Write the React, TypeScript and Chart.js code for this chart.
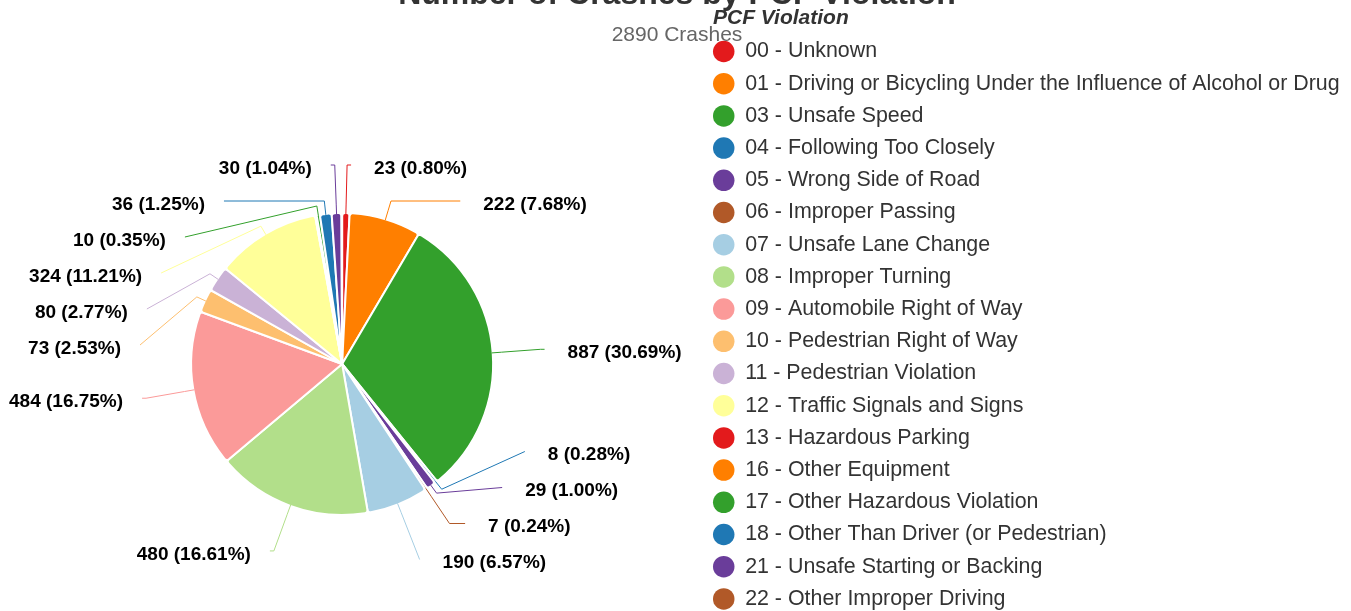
import React, { useEffect, useRef } from 'react';
import { Chart, registerables, DoughnutController } from 'chart.js';

Chart.register(...registerables);

const FONT = "'Liberation Sans', Arial, Helvetica, sans-serif";

// ---- data ----
const violationCodes = ['00', '01', '03', '04', '05', '06', '07', '08', '09', '10', '11', '12', '13', '16', '17', '18', '21', '22'];
const violationNames = [
  'Unknown',
  'Driving or Bicycling Under the Influence of Alcohol or Drug',
  'Unsafe Speed',
  'Following Too Closely',
  'Wrong Side of Road',
  'Improper Passing',
  'Unsafe Lane Change',
  'Improper Turning',
  'Automobile Right of Way',
  'Pedestrian Right of Way',
  'Pedestrian Violation',
  'Traffic Signals and Signs',
  'Hazardous Parking',
  'Other Equipment',
  'Other Hazardous Violation',
  'Other Than Driver (or Pedestrian)',
  'Unsafe Starting or Backing',
  'Other Improper Driving',
];
const crashCounts = [23, 222, 887, 8, 29, 7, 190, 480, 484, 73, 80, 324, 2, 3, 10, 36, 30, 2];
const palette = ['#e31a1c', '#ff7f00', '#33a02c', '#1f78b4', '#6a3d9a', '#b15928', '#a6cee3', '#b2df8a', '#fb9a99', '#fdbf6f', '#cab2d6', '#ffff99'];

const titleText = 'Number of Crashes by PCF Violation';
const subtitleText = '2890 Crashes';
const legendTitleText = 'PCF Violation';

const categories = violationCodes.map((c, i) => `${c} - ${violationNames[i]}`);
const sliceColors = crashCounts.map((_, i) => palette[i % palette.length]);

// ---- layout constants ----
const CANVAS_W = 1351;
const CANVAS_H = 712;
const CANVAS_TOP = -30;
const LEGEND_PAD = 10.8;
const LT_SIZE = 21;
const LT_PAD_TOP = 39;
const PIE_SHIFT = 22.4;
const LABEL_DIST = 49;
const LABEL_GAP = 36;
const MIN_SHARE = 0.002;

const shiftAreaPlugin = {
  id: 'shiftArea',
  afterLayout(chart: any) {
    chart.chartArea.left -= PIE_SHIFT;
    chart.chartArea.width += PIE_SHIFT;
  },
};

function distribute(list: any[], lo: number, hi: number, gap: number) {
  type G = { start: number; items: any[] };
  const fix = (g: G) => {
    const n = g.items.length;
    let s = g.items.reduce((acc: number, it: any, j: number) => acc + it.natural - j * gap, 0) / n;
    s = Math.max(lo, Math.min(s, hi - (n - 1) * gap));
    g.start = s;
  };
  const groups: G[] = list.map((it) => ({ start: it.natural, items: [it] }));
  groups.forEach(fix);
  let merged = true;
  while (merged) {
    merged = false;
    for (let k = 1; k < groups.length; k++) {
      const a = groups[k - 1];
      const b = groups[k];
      if (b.start < a.start + a.items.length * gap) {
        a.items = a.items.concat(b.items);
        groups.splice(k, 1);
        fix(a);
        merged = true;
        break;
      }
    }
  }
  groups.forEach((g) =>
    g.items.forEach((it: any, j: number) => {
      it.y = g.start + j * gap;
      it.atBound = Math.abs(it.y - lo) < 0.5 || Math.abs(it.y - hi) < 0.5;
    })
  );
}

const outLabelsPlugin = {
  id: 'outLabels',
  afterDatasetsDraw(chart: any) {
    const meta = chart.getDatasetMeta(0);
    const arcs = meta.data as any[];
    if (!arcs.length) return;
    const values = chart.data.datasets[0].data as number[];
    const colors = chart.data.datasets[0].backgroundColor as string[];
    const total = values.reduce((a, b) => a + b, 0);
    const cx = arcs[0].x;
    const cy = arcs[0].y;
    const r = arcs[0].outerRadius - 1;
    const R = r + LABEL_DIST;
    const items: any[] = [];
    arcs.forEach((arc, i) => {
      const v = values[i];
      if (v / total < MIN_SHARE) return;
      const mid = (arc.startAngle + arc.endAngle) / 2;
      const cos = Math.cos(mid);
      const sin = Math.sin(mid);
      items.push({ i, v, cos, sin, right: cos >= 0, natural: cy + R * sin, y: 0, atBound: false });
    });
    for (const side of [true, false]) {
      const list = items.filter((it) => it.right === side).sort((a, b) => a.natural - b.natural);
      distribute(list, cy - R, cy + R - 3.5, LABEL_GAP);
    }
    const ctx = chart.ctx;
    ctx.save();
    ctx.lineWidth = 1;
    ctx.font = `bold 19px ${FONT}`;
    ctx.fillStyle = '#000000';
    ctx.textBaseline = 'middle';
    for (const it of items) {
      const dir = it.right ? 1 : -1;
      const yForX = it.atBound ? it.natural : it.y;
      const dy = yForX - cy;
      const lx = cx + dir * (Math.sqrt(Math.max(R * R - dy * dy, 0)) + 4);
      const ly = it.y;
      const tx = cx + r * it.cos;
      const ty = cy + r * it.sin;
      const bx = cx + (r + 10) * it.cos;
      const by = cy + (r + 10) * it.sin;
      const crookX = Math.abs(it.sin) > 1e-6 ? cx + ((ly - cy) * it.cos) / it.sin : Infinity;
      const crookOk = it.right ? crookX >= bx && crookX <= lx : crookX <= bx && crookX >= lx;
      ctx.strokeStyle = colors[it.i];
      ctx.beginPath();
      ctx.moveTo(lx, ly);
      if (crookOk) ctx.lineTo(crookX, ly);
      ctx.lineTo(bx, by);
      ctx.lineTo(tx, ty);
      ctx.stroke();
      const text = `${it.v} (${((it.v / total) * 100).toFixed(2)}%)`;
      ctx.textAlign = it.right ? 'left' : 'right';
      ctx.fillText(text, lx + dir * (it.right ? 23 : 19), ly + 3.5);
    }
    ctx.restore();
  },
};

const legendTitlePlugin = {
  id: 'legendTitleAligned',
  afterDraw(chart: any) {
    const lg = chart.legend;
    if (!lg) return;
    const ctx = chart.ctx;
    ctx.save();
    ctx.font = `italic bold ${LT_SIZE}px ${FONT}`;
    ctx.fillStyle = '#333333';
    ctx.textBaseline = 'middle';
    ctx.textAlign = 'left';
    ctx.fillText(legendTitleText, lg.left + LEGEND_PAD, lg.top + LT_PAD_TOP + LT_SIZE / 2 - 1.5);
    ctx.restore();
  },
};

export default function App() {
  const ref = useRef<HTMLCanvasElement>(null);
  useEffect(() => {
    if (!ref.current) return;
    Chart.defaults.font.family = FONT;
    const baseGen = (DoughnutController as any).overrides.plugins.legend.labels.generateLabels;
    const chart = new Chart(ref.current, {
      type: 'pie',
      data: {
        labels: categories,
        datasets: [
          {
            data: crashCounts,
            backgroundColor: sliceColors,
            borderColor: '#ffffff',
            borderWidth: 2,
            borderRadius: 3,
            radius: 151,
          } as any,
        ],
      },
      options: {
        responsive: false,
        animation: false,
        devicePixelRatio: 1,
        layout: { padding: { left: 4.4, right: 1.4, top: 0, bottom: 1.6 } },
        plugins: {
          title: {
            display: true,
            text: titleText,
            color: '#333333',
            font: { family: FONT, size: 32, weight: 'bold' },
            padding: { top: 5.8, bottom: 8.2 },
          },
          subtitle: {
            display: true,
            text: subtitleText,
            color: '#666666',
            font: { family: FONT, size: 21, weight: 'normal' },
            padding: { top: 0, bottom: 0 },
          },
          legend: {
            display: true,
            position: 'right',
            align: 'start',
            title: {
              display: true,
              text: '',
              font: { family: FONT, size: LT_SIZE, lineHeight: 1 },
              padding: { top: LT_PAD_TOP, bottom: 0 },
            },
            labels: {
              usePointStyle: true,
              pointStyle: 'circle',
              boxHeight: 15.2,
              padding: LEGEND_PAD,
              color: '#333333',
              font: { family: FONT, size: 21.4 },
              generateLabels: (c: any) =>
                baseGen(c).map((it: any) => ({ ...it, lineWidth: 0, strokeStyle: 'rgba(0,0,0,0)' })),
            },
          },
          tooltip: { enabled: false },
        },
      } as any,
      plugins: [shiftAreaPlugin, outLabelsPlugin, legendTitlePlugin],
    });
    return () => chart.destroy();
  }, []);
  return (
    <div style={{ position: 'fixed', left: 0, top: 0, width: CANVAS_W, height: 611, overflow: 'hidden', background: '#ffffff' }}>
      <canvas
        ref={ref}
        width={CANVAS_W}
        height={CANVAS_H}
        style={{ position: 'absolute', left: 0, top: CANVAS_TOP, width: CANVAS_W, height: CANVAS_H, display: 'block' }}
      />
    </div>
  );
}
